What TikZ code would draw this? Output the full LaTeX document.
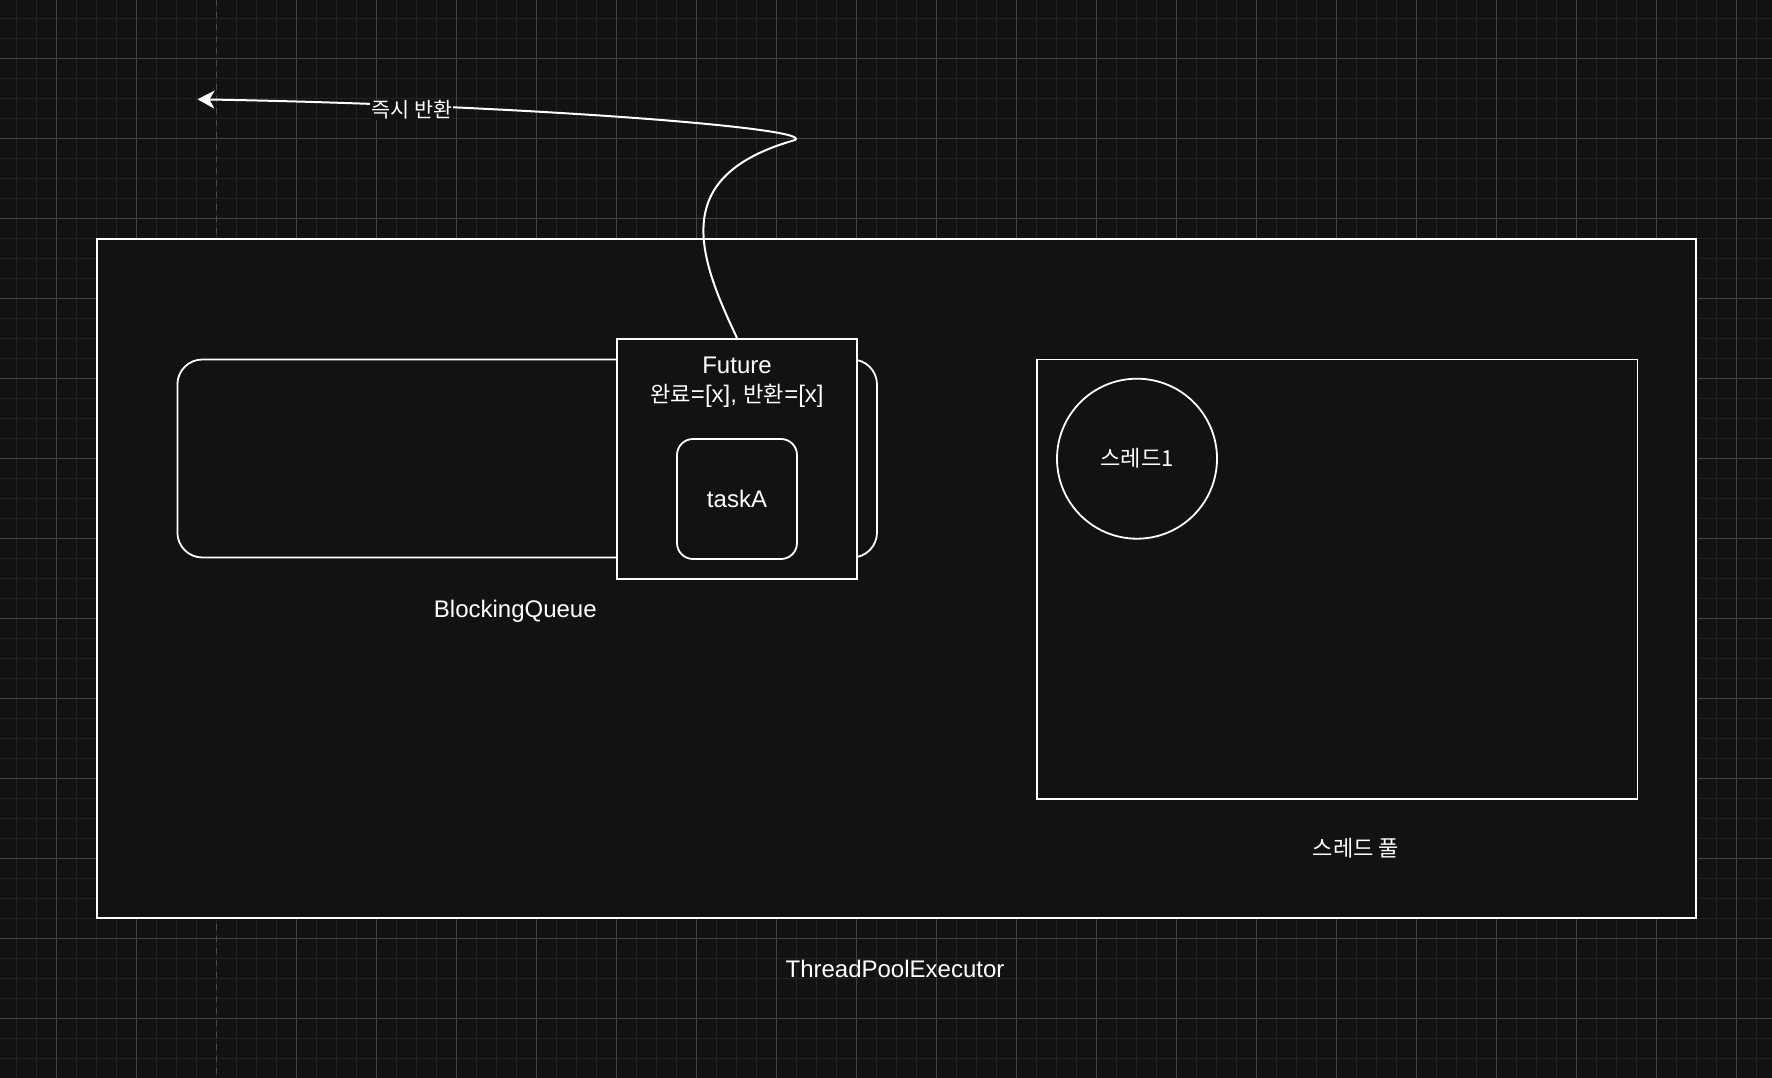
\documentclass[tikz,border=0pt]{standalone}
\usepackage{fontspec}
\setmainfont{Liberation Sans}
\newfontfamily\kr{Noto Sans CJK KR}[Scale=0.92]
\usetikzlibrary{arrows.meta}
\definecolor{bg}{HTML}{121212}
\definecolor{gridminor}{HTML}{232323}
\definecolor{gridmajor}{HTML}{434343}
\definecolor{pagebreak}{HTML}{4a4a4a}
\tikzset{
  box/.style={draw=white, line width=1.8pt, fill=bg, inner sep=0pt},
  txt/.style={text=white, inner sep=0pt, font=\fontsize{24}{28.5}\selectfont},
  elabel/.style={text=white, fill=bg, inner sep=1pt, font=\fontsize{22.5}{25}\selectfont},
  edge/.style={draw=white, line width=2pt, -{Stealth[length=17pt,width=18pt,inset=5pt]}},
}
\begin{document}
\begin{tikzpicture}[x=1pt,y=-1pt]
\useasboundingbox (0,0) rectangle (1772,1078);
\fill[bg] (0,0) rectangle (1772,1078);
% background grid
\foreach \i in {0,...,88} \draw[gridminor, line width=1pt] ({16.7+20*\i},0) -- ++(0,1078);
\foreach \i in {0,...,53} \draw[gridminor, line width=1pt] (0,{18.3+20*\i}) -- ++(1772,0);
\foreach \i in {0,1,3,4,...,21} \draw[gridmajor, line width=1pt] ({56.7+80*\i},0) -- ++(0,1078);
\foreach \i in {0,...,13} \draw[gridmajor, line width=1pt] (0,{58.3+80*\i}) -- ++(1772,0);
% page break
\draw[pagebreak, line width=1.4pt, dash pattern=on 6pt off 6pt] (216.7,0) -- (216.7,1078);

% executor frame
\node[box, minimum width=1599, minimum height=679] (exec) at (896.5,578.5) {};
\node[txt] (execlbl) at (895,968.5) {ThreadPoolExecutor};

% blocking queue
\node[box, rounded corners=25pt, minimum width=699.6, minimum height=198] (queue) at (527.2,458.5) {};
\node[txt] (queuelbl) at (515.3,611) {BlockingQueue};

% future holding the task
\node[box, minimum width=240, minimum height=240] (fut) at (737,458.8) {};
\node[txt, align=center] (futlbl) at (737,382) {Future\\{\kr 완료}=[x], {\kr 반환}=[x]};
\node[box, txt, rounded corners=16pt, minimum width=120, minimum height=120] (task) at (737,499) {taskA};

% thread pool
\node[box, minimum width=600.5, minimum height=439.6] (pool) at (1337.2,579.2) {};
\node[box, txt, circle, minimum size=160] (th1) at (1137,458.7) {\kr 스레드1};
\node[txt] (poollbl) at (1356,848.5) {\kr 스레드 풀};

% immediate return of the future
\coordinate (bend) at (795,140);
\coordinate (ret) at (197.5,99.3);
\draw[edge] (fut.north) .. controls (695,250) and (672,175) .. (bend)
  .. controls (815,128) and (520,105) .. (ret);
\node[elabel] (retlbl) at (411.8,110) {\kr 즉시 반환};
\end{tikzpicture}
\end{document}
